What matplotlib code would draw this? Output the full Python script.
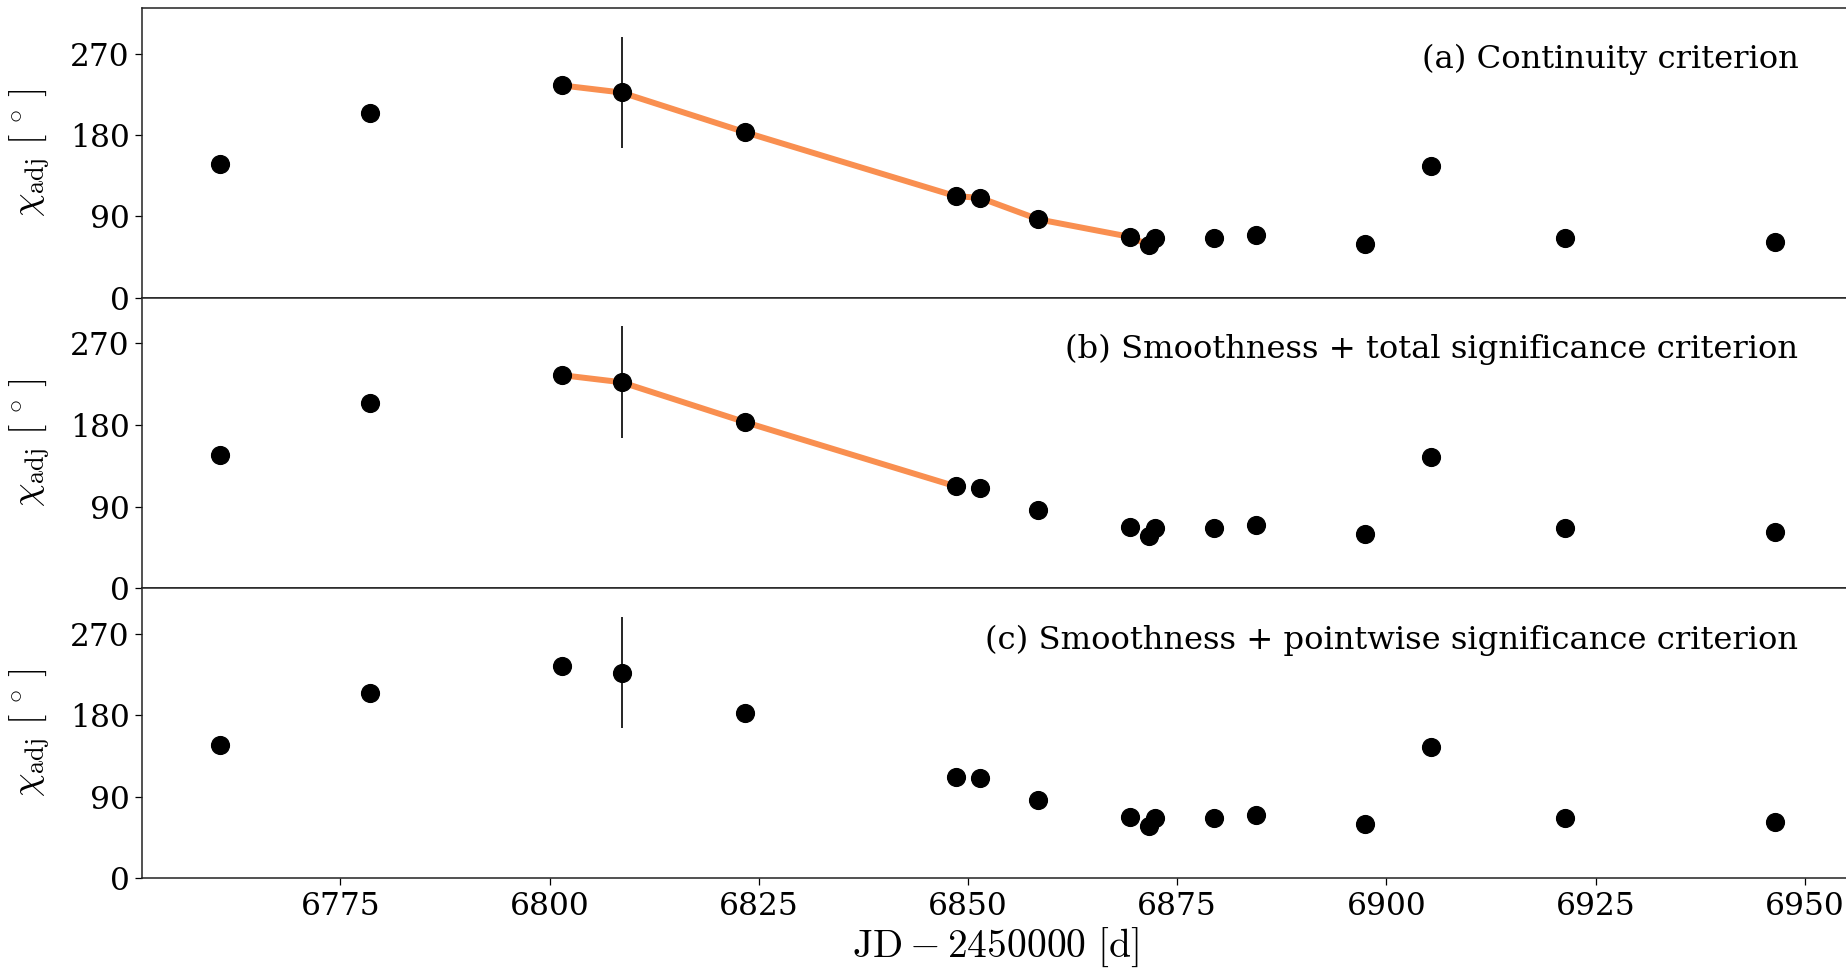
import matplotlib
matplotlib.use("Agg")
import matplotlib.pyplot as plt
import numpy as np

plt.rcParams['font.family'] = ['DejaVu Serif']
plt.rcParams['mathtext.fontset'] = 'cm'

# Data (JD - 2450000, chi_adj in degrees)
jd = [6760.6, 6778.6, 6801.5, 6808.6, 6823.4, 6848.6, 6851.4, 6858.4,
      6869.4, 6871.6, 6872.3, 6879.4, 6884.4, 6897.4, 6905.3, 6921.4, 6946.4]
chi = [147.3, 204.3, 234.7, 226.9, 182.9, 112.1, 110.6, 86.7,
       67.2, 58.1, 66.5, 66.1, 69.4, 59.5, 145.1, 66.1, 62.1]
chi_err = [3, 3, 3, 61.5, 3, 3, 3, 3, 3, 3, 3, 3, 3, 3, 3, 10, 3]

# indices of points connected by the selected track in each panel
track_a = (2, 10)   # points 3..10 (python slice)
track_b = (2, 6)    # points 3..6
labels = ["(a) Continuity criterion",
          "(b) Smoothness + total significance criterion",
          "(c) Smoothness + pointwise significance criterion"]
tracks = [track_a, track_b, None]

yticks = [0, 90, 180, 270]
xticks = [6775, 6800, 6825, 6850, 6875, 6900, 6925, 6950]

W, H = 1846, 968
fig = plt.figure(figsize=(W / 100, H / 100), dpi=100)

left_px = 142
xmin, xmax = 6751.3, 6960
pxu = 8.369
right_px = 340.2 + (xmax - 6775) * pxu
panel_edges = [(8.3, 297.7), (297.7, 588.3), (588.3, 878.3)]

orange = '#f98f50'
axes = []
for i, (top, bot) in enumerate(panel_edges):
    ax = fig.add_axes([left_px / W, 1 - bot / H, (right_px - left_px) / W, (bot - top) / H])
    axes.append(ax)
    tr = tracks[i]
    if tr is not None:
        s, e = tr
        ax.plot(jd[s:e], chi[s:e], color=orange, lw=4.3, zorder=1, solid_capstyle='round')
    ax.errorbar(jd, chi, yerr=chi_err, fmt='o', color='black', ms=12.8,
                elinewidth=1.2, capsize=0, zorder=2)
    ax.set_xlim(xmin, xmax)
    ax.set_ylim(0, 320)
    ax.set_yticks(yticks)
    ax.set_xticks(xticks)
    ax.tick_params(axis='both', labelsize=22.5, length=5, width=0.9, pad=4)
    if i < 2:
        ax.tick_params(axis='x', bottom=False, labelbottom=False)
    for sp in ax.spines.values():
        sp.set_linewidth(1.1)
        sp.set_color('#222222')
    ax.text(0.9484, 0.792, labels[i], transform=ax.transAxes, ha='right',
            va='baseline', fontsize=23.2)
    ax.set_ylabel(r'$\chi_{\rm adj}\ [\,^\circ\,]$', fontsize=27)
    ax.yaxis.set_label_coords(-0.0517, 0.5)

axes[2].set_xlabel(r'$\mathrm{JD} - 2450000\ [\mathrm{d}]$', fontsize=28.5)
axes[2].xaxis.set_label_coords((995 - left_px) / (right_px - left_px), -0.1645)

fig.savefig('out.png', dpi=100)
